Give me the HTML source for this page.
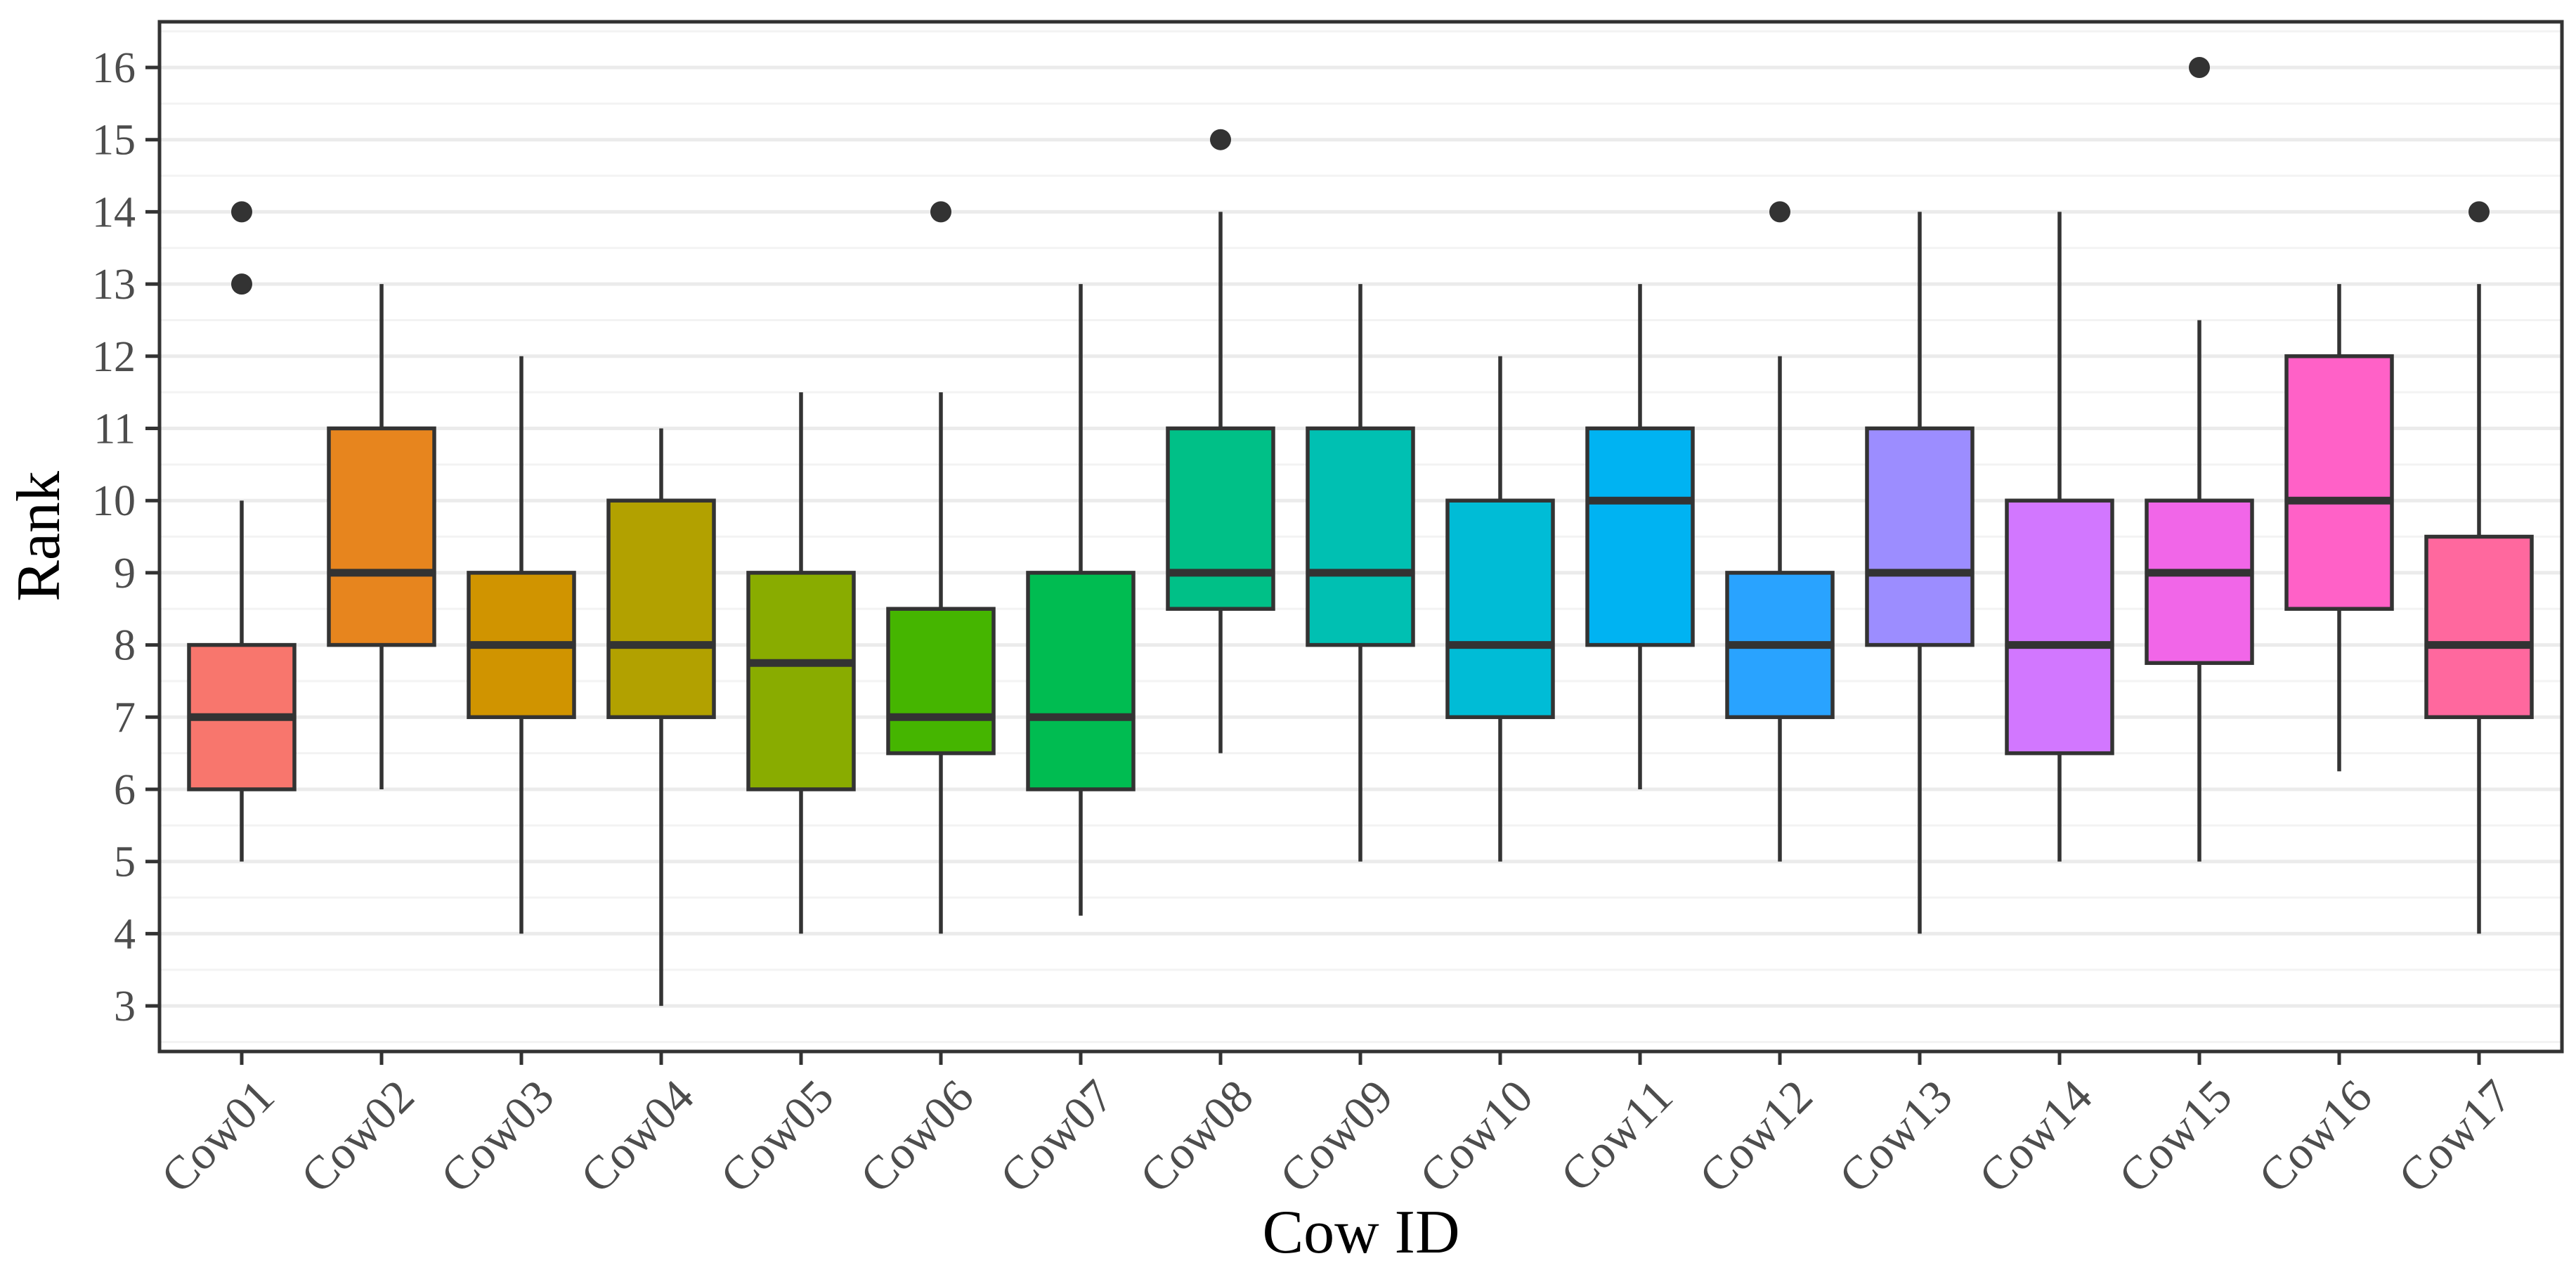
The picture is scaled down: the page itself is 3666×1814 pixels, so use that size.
<!DOCTYPE html>
<html><head><meta charset="utf-8"><style>
html,body{margin:0;padding:0;background:#fff;}
svg{display:block;}
text{font-family:"Liberation Serif","Times New Roman",serif;}
</style></head><body>
<svg id="chart" width="3666" height="1814" viewBox="0 0 3666 1814" xmlns="http://www.w3.org/2000/svg">
<rect x="0" y="0" width="3666" height="1814" fill="#ffffff"/>
<g id="grid"></g>
<g id="boxes"></g>
<rect x="227" y="31" width="3419" height="1465" fill="none" stroke="#333333" stroke-width="5"/>
<g id="axes"></g>
<text x="1937" y="1782" font-size="88" text-anchor="middle" fill="#000">Cow ID</text>
<text x="0" y="0" font-size="88" text-anchor="middle" fill="#000" transform="translate(84,763) rotate(-90)">Rank</text>
</svg>
<script>
const categories = ["Cow01","Cow02","Cow03","Cow04","Cow05","Cow06","Cow07","Cow08","Cow09","Cow10","Cow11","Cow12","Cow13","Cow14","Cow15","Cow16","Cow17"];
const whiskerLow  = [5,6,4,3,4,4,4.25,6.5,5,5,6,5,4,5,5,6.25,4];
const q1          = [6,8,7,7,6,6.5,6,8.5,8,7,8,7,8,6.5,7.75,8.5,7];
const medians     = [7,9,8,8,7.75,7,7,9,9,8,10,8,9,8,9,10,8];
const q3          = [8,11,9,10,9,8.5,9,11,11,10,11,9,11,10,10,12,9.5];
const whiskerHigh = [10,13,12,11,11.5,11.5,13,14,13,12,13,12,14,14,12.5,13,13];
const outliers    = [[13,14],[],[],[],[],[14],[],[15],[],[],[],[14],[],[],[16],[],[14]];
const yTicks = [3,4,5,6,7,8,9,10,11,12,13,14,15,16];

const NS="http://www.w3.org/2000/svg";
const yPx = v => 96 + (16 - v) * 102.7;
const xPx = i => 344 + i * 199;
const PL=227, PR=3646, PT=31, PB=1496;

function hcl(h){
  const L=65,C=100, hr=h*Math.PI/180;
  const u=C*Math.cos(hr), v=C*Math.sin(hr);
  const Xn=95.047,Yn=100,Zn=108.883;
  const un=4*Xn/(Xn+15*Yn+3*Zn), vn=9*Yn/(Xn+15*Yn+3*Zn);
  const Y=Yn*Math.pow((L+16)/116,3);
  const up=u/(13*L)+un, vp=v/(13*L)+vn;
  const X=9*Y*up/(4*vp);
  const Z=-X/3-5*Y+3*Y/vp;
  const x=X/100,y=Y/100,z=Z/100;
  let r= 3.240479*x-1.537150*y-0.498535*z;
  let g=-0.969256*x+1.875992*y+0.041556*z;
  let b= 0.055648*x-0.204043*y+1.057311*z;
  const gam=c=>{c=c<=0.0031308?12.92*c:1.055*Math.pow(c,1/2.4)-0.055;return Math.round(Math.max(0,Math.min(1,c))*255);};
  return "rgb("+gam(r)+","+gam(g)+","+gam(b)+")";
}
function mk(tag,attrs,parent){const e=document.createElementNS(NS,tag);for(const k in attrs)e.setAttribute(k,attrs[k]);parent.appendChild(e);return e;}

const grid=document.getElementById("grid");
for(let v=2.5; v<=16.5; v+=0.5){
  const y=yPx(v);
  if(y<PT||y>PB) continue;
  const major=Number.isInteger(v);
  const ln=mk("line",{x1:PL,x2:PR,y1:y,y2:y,stroke:major?"#EBEBEB":"#F3F3F3","stroke-width":major?5:3},grid);
  
  
}

const boxes=document.getElementById("boxes");
const bw=150, n=categories.length;
categories.forEach((c,i)=>{
  const cx=xPx(i);
  const col=hcl(15+360*i/n);
  const g=mk("g",{},boxes);
  
  
  const wl=mk("line",{x1:cx,x2:cx,y1:yPx(q3[i]),y2:yPx(whiskerHigh[i]),stroke:"#333333","stroke-width":5.5},g);
  
  
  const wl2=mk("line",{x1:cx,x2:cx,y1:yPx(q1[i]),y2:yPx(whiskerLow[i]),stroke:"#333333","stroke-width":5.5},g);
  
  
  const r=mk("rect",{x:cx-bw/2,y:yPx(q3[i]),width:bw,height:yPx(q1[i])-yPx(q3[i]),fill:col,stroke:"#333333","stroke-width":5.5},g);
  
  
  const m=mk("line",{x1:cx-bw/2,x2:cx+bw/2,y1:yPx(medians[i]),y2:yPx(medians[i]),stroke:"#333333","stroke-width":11},g);
  
  
  outliers[i].forEach(o=>{
    const p=mk("circle",{cx:cx,cy:yPx(o),r:15,fill:"#333333"},g);
    
    
  });
});

const axes=document.getElementById("axes");
yTicks.forEach(t=>{
  const y=yPx(t);
  const tk=mk("line",{x1:207,x2:227,y1:y,y2:y,stroke:"#333333","stroke-width":5},axes);
  
  
  const tx=mk("text",{x:193,y:y+21,"font-size":62,"text-anchor":"end",fill:"#4D4D4D"},axes);
  tx.textContent=t;
  
  
});
categories.forEach((c,i)=>{
  const x=xPx(i);
  const tk=mk("line",{x1:x,x2:x,y1:1496,y2:1515,stroke:"#333333","stroke-width":5},axes);
  
  
  const tx=mk("text",{x:0,y:0,"font-size":67,"text-anchor":"end",fill:"#4D4D4D",transform:"translate("+(x+50)+",1564) rotate(-45)"},axes);
  tx.textContent=c;
  
  
});
</script>
</body></html>
